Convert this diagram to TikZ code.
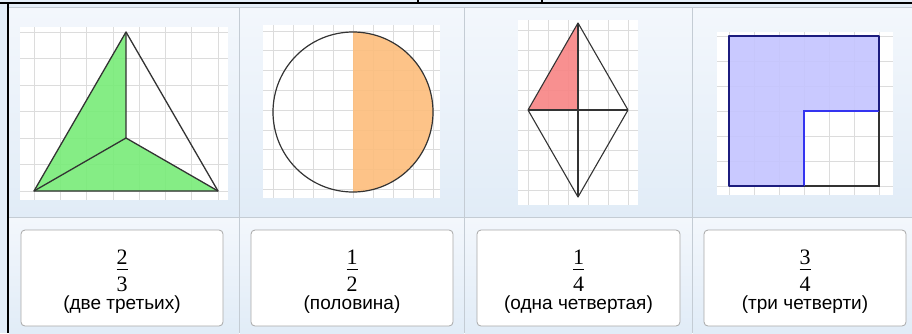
\documentclass[tikz,border=0pt]{standalone}
\usepackage{fontspec}
\setmainfont{Liberation Serif}
\newfontfamily\labfont{Liberation Sans}
\definecolor{bgblue}{HTML}{E4EEF8}
\definecolor{cellT}{HTML}{F3F7FC}
\definecolor{cellB}{HTML}{E1ECF7}
\definecolor{sepgray}{HTML}{C4CCD4}
\definecolor{gridgray}{HTML}{DCDCDC}
\definecolor{outl}{HTML}{333333}
\definecolor{greenf}{HTML}{78EC78}
\definecolor{orangef}{HTML}{FDBD7C}
\definecolor{redf}{HTML}{F88585}
\definecolor{bluef}{HTML}{C4C4FF}
\definecolor{navy}{HTML}{1C1C7E}
\definecolor{bluel}{HTML}{3434F0}
\definecolor{cardb}{HTML}{A8A8A8}
\tikzset{
  gridl/.style={draw=gridgray, line width=0.8pt},
  shapeline/.style={draw=outl, line width=1.3pt, line join=round},
  shapefill/.style={fill opacity=0.9},
  card/.style={draw=cardb, fill=white, rounded corners=4pt, line width=0.8pt},
  numtxt/.style={font=\fontsize{22}{22}\selectfont, inner sep=0pt},
  labtxt/.style={font=\labfont\fontsize{19}{19}\selectfont, inner sep=0pt},
}
\begin{document}
\begin{tikzpicture}[x=1pt,y=-1pt]
\useasboundingbox (0,0) rectangle (912,333);
\fill[bgblue] (0,0) rectangle (912,333);
% cells
\foreach \xa/\xb in {9/239,240/464,465/692,693/912}{
  \shade[top color=cellT,bottom color=cellB] (\xa,8) rectangle (\xb,216);
  \shade[top color=cellT,bottom color=cellB] (\xa,218) rectangle (\xb,333);
}
\draw[sepgray,line width=0.8pt] (9,7) -- (912,7);
\draw[sepgray,line width=1pt] (9,217) -- (912,217);
\foreach \x in {239.5,464.5,692.5}{\draw[sepgray,line width=1pt] (\x,7) -- (\x,333);}
% top rule and left border
\draw[black,line width=1.6pt] (0,3) -- (912,3);
\draw[black,line width=2pt] (8,3) -- (8,333);
\draw[black,line width=1.4pt] (418,0) -- (418,3);
\draw[black,line width=1.4pt] (542,0) -- (542,3);

% ---- cell 1: triangle
\fill[white] (20,27) rectangle (228,200);
\foreach \k in {0,...,7}{\draw[gridl] (34+26.3*\k,27) -- (34+26.3*\k,200);}
\foreach \k in {0,...,6}{\draw[gridl] (20,191-26.5*\k) -- (228,191-26.5*\k);}
\coordinate (tA) at (126,32);
\coordinate (tL) at (34,191);
\coordinate (tR) at (218,191);
\coordinate (tC) at (126,138);
\fill[greenf,shapefill] (tA) -- (tC) -- (tR) -- (tL) -- cycle;
\draw[shapeline] (tA) -- (tL) -- (tR) -- cycle;
\draw[shapeline] (tA) -- (tC) (tL) -- (tC) -- (tR);

% ---- cell 2: circle
\fill[white] (263,25) rectangle (440,198);
\foreach \k in {0,...,8}{\draw[gridl] (273+20*\k,25) -- (273+20*\k,198);}
\foreach \k in {0,...,8}{\draw[gridl] (263,31+19.8*\k) -- (440,31+19.8*\k);}
\coordinate (cO) at (353,112);
\fill[orangef,shapefill] (353,32) arc[start angle=-90,end angle=90,radius=80] -- cycle;
\draw[shapeline,line width=1.2pt] (cO) circle[radius=80];

% ---- cell 3: rhombus
\fill[white] (518,20) rectangle (638,205);
\foreach \k in {0,...,5}{\draw[gridl] (528+20*\k,20) -- (528+20*\k,205);}
\foreach \k in {0,...,8}{\draw[gridl] (518,30+20.1*\k) -- (638,30+20.1*\k);}
\coordinate (rT) at (578,23);
\coordinate (rL) at (528,110);
\coordinate (rR) at (628,110);
\coordinate (rB) at (578,197);
\coordinate (rC) at (578,110);
\fill[redf,shapefill] (rT) -- (rL) -- (rC) -- cycle;
\draw[shapeline,line width=1.1pt] (rT) -- (rR) -- (rB) -- (rL) -- cycle;
\draw[shapeline,line width=1.1pt] (rL) -- (rR) (rT) -- (rB);

% ---- cell 4: square
\fill[white] (717,32) rectangle (893,195);
\foreach \k in {0,...,6}{\draw[gridl] (729+25*\k,32) -- (729+25*\k,195);}
\foreach \k in {0,...,6}{\draw[gridl] (717,36+25*\k) -- (893,36+25*\k);}
\coordinate (sTL) at (729,36);
\coordinate (sTR) at (879,36);
\coordinate (sBR) at (879,186);
\coordinate (sBL) at (729,186);
\coordinate (sMR) at (879,111);
\coordinate (sMB) at (804,186);
\coordinate (sM) at (804,111);
\fill[bluef,shapefill] (sTL) -- (sTR) -- (sMR) -- (sM) -- (sMB) -- (sBL) -- cycle;
\draw[outl,line width=1.4pt] (sMR) -- (sBR) -- (sMB);
\draw[bluel,line width=1.2pt] (sMR) -- (sM) -- (sMB);
\draw[navy,line width=1.6pt,line join=round] (sMR) -- (sTR) -- (sTL) -- (sBL) -- (sMB);

% ---- cards
\foreach \xa/\xb/\n/\d/\t [count=\i] in {21/223/2/3/{(две третьих)},251/453/1/2/{(половина)},477/680/1/4/{(одна четвертая)},704/906/3/4/{(три четверти)}}{
  \draw[card] (\xa,230) rectangle (\xb,326);
  \pgfmathsetmacro{\cx}{(\xa+\xb)/2}
  \node[numtxt] (num\i) at (\cx,257.5) {\n};
  \node[numtxt] (den\i) at (\cx,284.5) {\d};
  \draw[black,line width=1pt] (\cx-5.5,269.5) -- (\cx+5.5,269.5);
  \node[labtxt] (lab\i) at (\cx,305) {\t};
}
\end{tikzpicture}
\end{document}
